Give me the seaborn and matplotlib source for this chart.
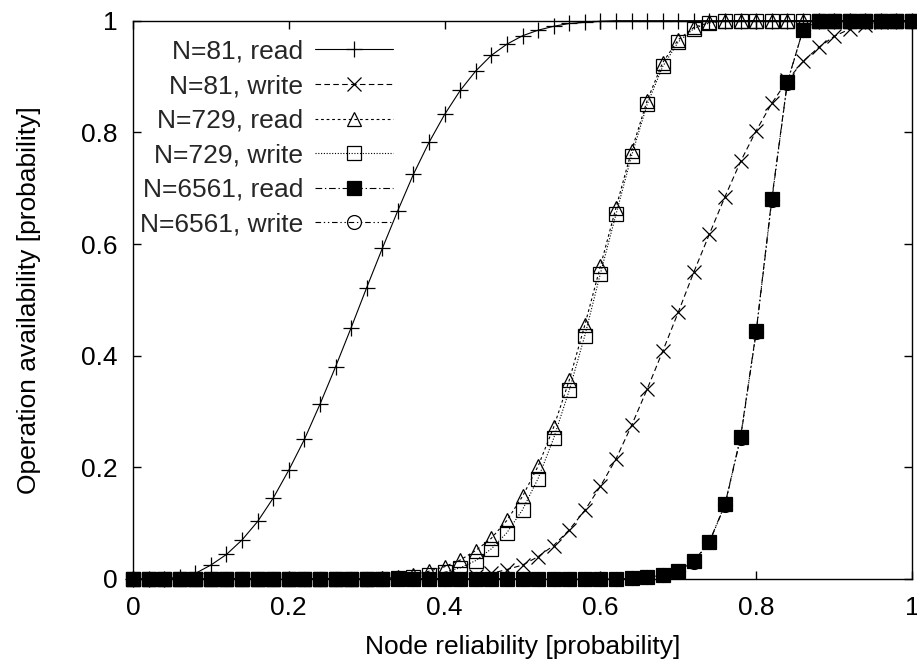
import numpy as np
import pandas as pd
import matplotlib
matplotlib.use("Agg")
import matplotlib.pyplot as plt
import seaborn as sns
from matplotlib.ticker import FixedLocator, FuncFormatter

# ---- data -------------------------------------------------------------
reliability = [i / 50 for i in range(51)]

read_81 = [0, 0, 0, 0.003, 0.01, 0.025, 0.044, 0.07, 0.103, 0.145,
           0.195, 0.25, 0.313, 0.38, 0.45, 0.522, 0.592, 0.66, 0.725, 0.782,
           0.832, 0.875, 0.91, 0.938, 0.958, 0.973, 0.983, 0.99, 0.995, 0.997,
           0.999, 1, 1, 1, 1, 1, 1, 1, 1, 1,
           1, 1, 1, 1, 1, 1, 1, 1, 1, 1, 1]

write_81 = [0, 0, 0, 0, 0, 0, 0, 0, 0, 0,
            0, 0, 0, 0, 0, 0, 0, 0, 0, 0.0005,
            0.001, 0.002, 0.005, 0.01, 0.017, 0.025, 0.04, 0.06, 0.088, 0.123,
            0.166, 0.215, 0.275, 0.34, 0.408, 0.478, 0.55, 0.618, 0.685, 0.748,
            0.803, 0.852, 0.893, 0.927, 0.952, 0.972, 0.985, 0.992, 0.997, 0.999, 1]

read_729 = [0, 0, 0, 0, 0, 0, 0, 0, 0, 0,
            0, 0, 0, 0, 0, 0, 0.001, 0.003, 0.007, 0.014,
            0.022, 0.034, 0.051, 0.073, 0.105, 0.148, 0.202, 0.272, 0.356, 0.455,
            0.56, 0.665, 0.767, 0.857, 0.925, 0.966, 0.988, 0.997, 1, 1,
            1, 1, 1, 1, 1, 1, 1, 1, 1, 1, 1]

write_729 = [0, 0, 0, 0, 0, 0, 0, 0, 0, 0,
             0, 0, 0, 0, 0, 0, 0, 0.001, 0.003, 0.007,
             0.012, 0.02, 0.033, 0.054, 0.083, 0.124, 0.18, 0.252, 0.338, 0.436,
             0.547, 0.653, 0.758, 0.85, 0.918, 0.962, 0.986, 0.996, 1, 1,
             1, 1, 1, 1, 1, 1, 1, 1, 1, 1, 1]

read_6561 = [0, 0, 0, 0, 0, 0, 0, 0, 0, 0,
             0, 0, 0, 0, 0, 0, 0, 0, 0, 0,
             0, 0, 0, 0, 0, 0, 0, 0, 0, 0,
             0, 0, 0.001, 0.003, 0.007, 0.015, 0.032, 0.067, 0.134, 0.255,
             0.444, 0.681, 0.89, 0.983, 1, 1, 1, 1, 1, 1, 1]

write_6561 = [0, 0, 0, 0, 0, 0, 0, 0, 0, 0,
              0, 0, 0, 0, 0, 0, 0, 0, 0, 0,
              0, 0, 0, 0, 0, 0, 0, 0, 0, 0,
              0, 0, 0.001, 0.003, 0.007, 0.015, 0.031, 0.066, 0.133, 0.253,
              0.442, 0.678, 0.889, 0.983, 1, 1, 1, 1, 1, 1, 1]

series_labels = ["N=81, read", "N=81, write", "N=729, read",
                 "N=729, write", "N=6561, read", "N=6561, write"]
series_values = [read_81, write_81, read_729, write_729, read_6561, write_6561]

tick_values = [0, 0.2, 0.4, 0.6, 0.8, 1]

# ---- styles -----------------------------------------------------------
styles = [
    dict(marker="+", linestyle="-", mfc="black", ms=11),
    dict(marker="x", linestyle=(0, (5, 3)), mfc="black", ms=9.5),
    dict(marker="^", linestyle=(0, (2.5, 2.5)), mfc="none", ms=10),
    dict(marker="s", linestyle=(0, (1, 1.5)), mfc="none", ms=9.5),
    dict(marker="s", linestyle=(0, (6, 2.5, 1.2, 2.5)), mfc="black", ms=10),
    dict(marker="o", linestyle=(0, (5, 2.5, 1.2, 2.5, 1.2, 2.5)), mfc="none", ms=10),
]

FS = 19

sns.set_theme(style="white")
plt.rcParams["font.family"] = ["Liberation Sans", "DejaVu Sans"]
plt.rcParams["axes.linewidth"] = 1.0

fig = plt.figure(figsize=(9.17, 6.62), dpi=100)
ax = fig.add_axes([133 / 917, 1 - 579 / 662, (912 - 133) / 917, (579 - 20.7) / 662])

for lab, vals, st in zip(series_labels, series_values, styles):
    df = pd.DataFrame({"x": reliability, "y": vals})
    sns.lineplot(data=df, x="x", y="y", ax=ax, color="black", label=lab,
                 estimator=None, sort=False, linewidth=0.8,
                 marker=st["marker"], linestyle=st["linestyle"],
                 markersize=st["ms"], markerfacecolor=st["mfc"],
                 markeredgecolor="black", markeredgewidth=0.9, clip_on=False)

ax.set_xlim(0, 1)
ax.set_ylim(0, 1)
fmt = FuncFormatter(lambda v, p: "%g" % v)
ax.xaxis.set_major_locator(FixedLocator(tick_values))
ax.yaxis.set_major_locator(FixedLocator(tick_values))
ax.xaxis.set_major_formatter(fmt)
ax.yaxis.set_major_formatter(fmt)
ax.tick_params(axis="both", which="major", direction="in", length=6, width=1.0,
               color="black", labelsize=FS, labelcolor="black",
               top=True, right=True, bottom=True, left=True)
ax.tick_params(axis="x", pad=12)
ax.tick_params(axis="y", pad=11)
for s in ax.spines.values():
    s.set_color("black")
    s.set_linewidth(1.0)
    s.set_visible(True)
    s.set_zorder(0.5)

ax.set_xlabel("Node reliability [probability]", fontsize=FS, color="black", labelpad=11)
ax.set_ylabel("Operation availability [probability]", fontsize=FS, color="black", labelpad=29)

leg = ax.legend(loc="upper right", bbox_to_anchor=(0.334, 0.966), frameon=False,
                markerfirst=False, fontsize=FS, handlelength=2.95, handletextpad=0.45,
                labelspacing=0.40, borderpad=0, borderaxespad=0)
for col in leg._legend_handle_box.get_children():
    col.align = "right"

fig.savefig("out.png", dpi=100)
